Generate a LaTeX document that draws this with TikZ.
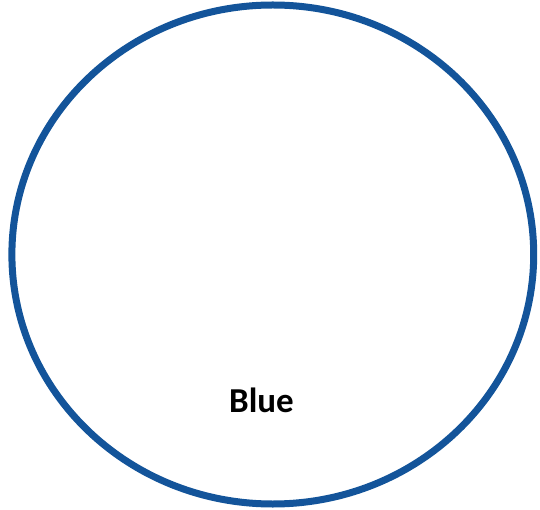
\documentclass[tikz,border=0pt]{standalone}
\usepackage{fontspec}
\setmainfont{Carlito}
\definecolor{ringblue}{HTML}{13549A}
\tikzset{ring/.style={draw=ringblue,line width=7pt}}
\begin{document}
\begin{tikzpicture}[x=1pt,y=-1pt]
\useasboundingbox (0,0) rectangle (540,510);
\draw[ring] (272.8,254.5) ellipse [x radius=260.9, y radius=249.5];
\node[font=\bfseries\fontsize{35}{42}\selectfont, anchor=base, inner sep=0] (label) at (261.5,412) {Blue};
\end{tikzpicture}
\end{document}
